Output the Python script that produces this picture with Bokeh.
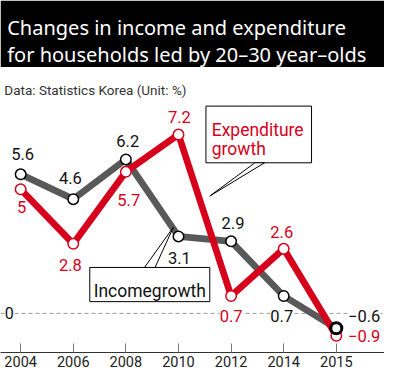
from bokeh.plotting import figure
from bokeh.models import (Range1d, FixedTicker, Span, Label, LabelSet, BoxAnnotation,
                          PolyAnnotation, ColumnDataSource)
from bokeh.core.properties import value
from bokeh.embed import file_html
from bokeh.resources import INLINE

# ---------------- data ----------------
years = ["2004", "2006", "2008", "2010", "2012", "2014", "2015"]
income_growth = [5.6, 4.6, 6.2, 3.1, 2.9, 0.7, -0.6]
expenditure_growth = [5.0, 2.8, 5.7, 7.2, 0.7, 2.6, -0.9]

title_lines = ["Changes in income and expenditure",
               "for households led by 20\u201330 year\u2013olds"]
subtitle = "Data: Statistics Korea (Unit: %)"
income_name = "Incomegrowth"
expenditure_name = ["Expenditure", "growth"]

# label offsets (reference pixels, +dy = downward)
inc_dx = [2, -3, 2, 1, 2, -2, 29]
inc_dy = [-21, -22, -19, 22, -19, 21, -13]
exp_dx = [1, -3, 3, 1, 0, -2, 29]
exp_dy = [19, 22, 29, -18, 21, -18, 0]

# ---------------- layout helpers ----------------
S = 0.96                      # scale from 400x385 reference to 384x369 figure
def X(px):                    # reference pixel x -> data x
    return (px - 21.0) / 54.8
def Y(py):                    # reference pixel y -> data y
    return (320.0 - py) / 25.4

RED = "#d7001c"
GRAY = "#595959"

idx = list(range(len(years)))

p = figure(width=384, height=369,
           x_range=Range1d(X(0), X(400)), y_range=Range1d(Y(360), Y(0)),
           output_backend="svg", toolbar_location=None, tools="",
           y_axis_location=None, min_border=0)
p.outline_line_color = None
p.grid.visible = False
p.background_fill_color = "white"
p.border_fill_color = "white"

ax = p.xaxis[0]
ax.ticker = FixedTicker(ticks=idx)
ax.major_label_overrides = {i: y for i, y in zip(idx, years)}
ax.major_tick_in = int(round(9 * S))
ax.major_tick_out = 0
ax.minor_tick_line_color = None
ax.axis_line_color = "#333333"
ax.axis_line_width = 1.2
ax.major_tick_line_color = "#777777"
ax.major_label_text_font = "Roboto"
ax.major_label_text_font_size = "14.5px"
ax.major_label_text_color = "#222222"
ax.major_label_standoff = 3

# title block
p.add_layout(BoxAnnotation(bottom=Y(68), fill_color="black", fill_alpha=1.0,
                           line_color=None))
for t, base in zip(title_lines, [28, 55]):
    p.add_layout(Label(x=X(7), y=Y(base), text=t, text_color="white",
                       text_font="Noto Sans", text_font_size="20px",
                       text_baseline="alphabetic", text_align="left"))
p.add_layout(Label(x=X(4), y=Y(92), text=subtitle, text_color="#333333",
                   text_font="Roboto", text_font_size="13.5px",
                   text_baseline="alphabetic", text_align="left"))

# zero line
p.add_layout(Span(location=0, dimension="width", line_color="#9a9a9a",
                  line_dash="4 3", line_width=1, level="underlay"))

# lines
p.line(idx, income_growth, line_color=GRAY, line_width=6.7, line_join="round")
p.line(idx, expenditure_growth, line_color=RED, line_width=6.7, line_join="round")
p.scatter(idx, expenditure_growth, size=10.5, fill_color="white",
          line_color=RED, line_width=1.5)
p.scatter(idx, income_growth, size=10.5, fill_color="white",
          line_color="black", line_width=1.5)
p.scatter(idx[-1:], income_growth[-1:], size=11, fill_color="white",
          line_color="black", line_width=3)

def fmt(v):
    return f"{v:g}".replace("-", "\u2212")

src_inc = ColumnDataSource(dict(x=idx, y=income_growth,
                                t=[fmt(v) for v in income_growth],
                                dx=[d * S for d in inc_dx],
                                dy=[-d * S for d in inc_dy]))
src_exp = ColumnDataSource(dict(x=idx, y=expenditure_growth,
                                t=[fmt(v) for v in expenditure_growth],
                                dx=[d * S for d in exp_dx],
                                dy=[-d * S for d in exp_dy]))
p.add_layout(LabelSet(x="x", y="y", text="t", x_offset="dx", y_offset="dy",
                      source=src_inc, text_align="center", text_baseline="middle",
                      text_color="#111111", text_font=value("Roboto"),
                      text_font_size=value("16.5px"),
                      background_fill_color="white"))
p.add_layout(LabelSet(x="x", y="y", text="t", x_offset="dx", y_offset="dy",
                      source=src_exp, text_align="center", text_baseline="middle",
                      text_color=RED, text_font=value("Roboto"),
                      text_font_size=value("16.5px"),
                      background_fill_color="white"))

# "0" tick label on the zero line
p.add_layout(Label(x=X(9), y=0, text="0", text_align="center",
                   text_baseline="middle", text_color="#111111",
                   text_font="Roboto", text_font_size="16px",
                   background_fill_color="white"))

# callout: expenditure
p.add_layout(BoxAnnotation(left=X(214), right=X(324), top=Y(108), bottom=Y(166),
                           fill_color="white", fill_alpha=1.0,
                           line_color="black", line_alpha=1.0, line_width=1))
p.add_layout(PolyAnnotation(xs=[X(265), X(218), X(275)], ys=[Y(166), Y(200), Y(166)],
                            fill_color="white", fill_alpha=1.0,
                            line_color="black", line_alpha=1.0, line_width=1))
for t, base in zip(expenditure_name, [132, 152]):
    p.add_layout(Label(x=X(220), y=Y(base), text=t, text_color=RED,
                       text_font="Roboto", text_font_size="17.5px",
                       text_baseline="alphabetic", text_align="left"))

# callout: income
p.add_layout(BoxAnnotation(left=X(93), right=X(218), top=Y(273), bottom=Y(308),
                           fill_color="white", fill_alpha=1.0,
                           line_color="black", line_alpha=1.0, line_width=1))
p.add_layout(PolyAnnotation(xs=[X(150), X(180), X(161)], ys=[Y(273), Y(232), Y(273)],
                            fill_color="white", fill_alpha=1.0,
                            line_color="black", line_alpha=1.0, line_width=1))
p.add_layout(Label(x=X(155.5), y=Y(297), text=income_name, text_color="#111111",
                   text_font="Roboto", text_font_size="17.5px",
                   text_baseline="alphabetic", text_align="center"))

open("out.html", "w").write(file_html(p, INLINE))
